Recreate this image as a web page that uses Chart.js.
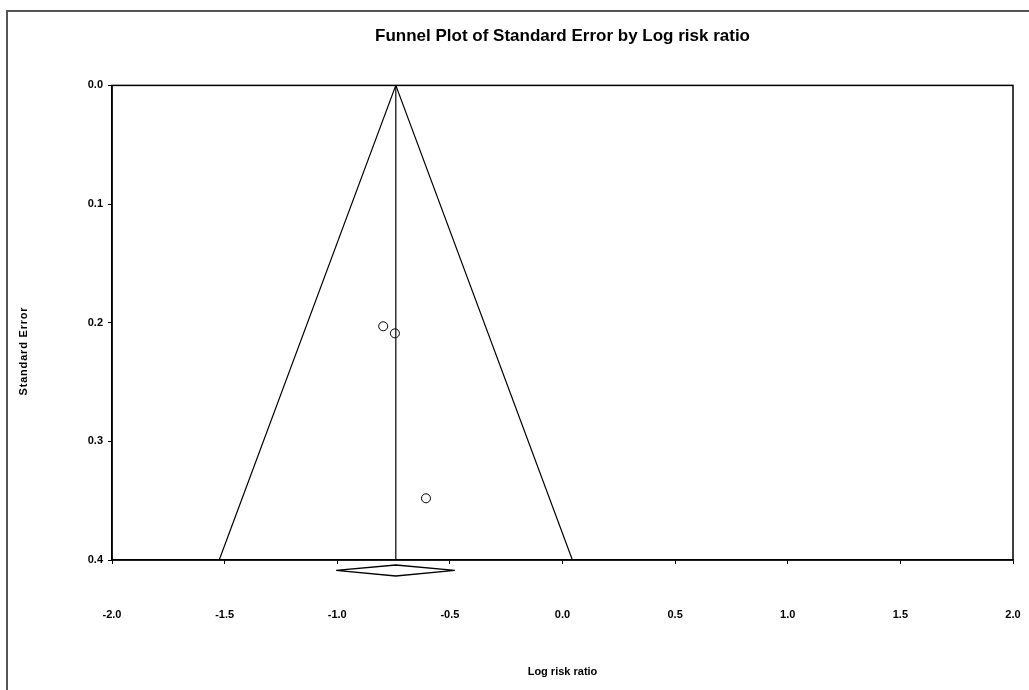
<!DOCTYPE html>
<html>
<head>
<meta charset="utf-8">
<script src="https://cdn.jsdelivr.net/npm/chart.js@4"></script>
<style>
    body { margin: 0; background: #fff; overflow: hidden; }
    #wrap { position: relative; width: 1029px; height: 690px; }
    #frame { position: absolute; left: 6px; top: 10px; width: 1040px; height: 700px;
             border-left: 2px solid #555; border-top: 2px solid #555; pointer-events: none; }
</style>
</head>
<body>
<div id="wrap">
    <canvas id="Funnel" width="1029" height="690"></canvas>
    <div id="frame"></div>
</div>
<script>
// оценка и 95% границы воронки
const pooled = -0.74;
const funnelX = [-1.524, -0.74, 0.044];
const funnelY = [0.4, 0.0, 0.4];
const centerX = [-0.74, -0.74];
const centerY = [0.0, 0.4];

// исследования
const studyLogRR = [-0.796, -0.744, -0.606];
const studySE = [0.203, 0.209, 0.348];

// ромб суммарной оценки (под осью)
const diamondX = [-1.005, -0.74, -0.478, -0.74, -1.005];
const diamondY = [0.4088, 0.4042, 0.4088, 0.4135, 0.4088];

const xMin = -2.0, xMax = 2.0, xStep = 0.5;
const yMin = 0.0, yMax = 0.4, yStep = 0.1;

const plain = "'Liberation Sans', Arial, sans-serif";

function toPoints(xs, ys) {
    return xs.map((x, i) => ({x: x, y: ys[i]}));
}

// рамка области графика и подпись оси Y
const frameBox = {
    id: 'frameBox',
    afterDraw(chart) {
        const {ctx, chartArea} = chart;
        ctx.save();
        ctx.strokeStyle = '#000';
        ctx.lineWidth = 1.5;
        ctx.strokeRect(chartArea.left, chartArea.top, chartArea.right - chartArea.left, chartArea.bottom - chartArea.top);
        ctx.translate(24, 351);
        ctx.rotate(-Math.PI / 2);
        ctx.font = 'bold 11px ' + plain;
        ctx.letterSpacing = '0.8px';
        ctx.fillStyle = '#000';
        ctx.textAlign = 'center';
        ctx.textBaseline = 'middle';
        ctx.fillText('Standard Error', 0, 0);
        ctx.restore();
    }
};

const canvas = document.getElementById('Funnel');
const ctx = canvas.getContext('2d');
const chart = new Chart(ctx, {
    type: 'scatter',
    data: {
        datasets: [
            {
                label: 'funnel',
                data: toPoints(funnelX, funnelY),
                showLine: true,
                borderColor: '#000',
                borderWidth: 1.2,
                pointRadius: 0
            },
            {
                label: 'center',
                data: toPoints(centerX, centerY),
                showLine: true,
                borderColor: '#000',
                borderWidth: 1.2,
                pointRadius: 0
            },
            {
                label: 'studies',
                data: toPoints(studyLogRR, studySE),
                pointStyle: 'circle',
                pointRadius: 4.5,
                borderColor: '#000',
                borderWidth: 1,
                backgroundColor: 'rgba(0,0,0,0)'
            },
            {
                label: 'diamond',
                data: toPoints(diamondX, diamondY),
                showLine: true,
                clip: false,
                borderColor: '#000',
                borderWidth: 1.3,
                pointRadius: 0
            }
        ]
    },
    options: {
        responsive: false,
        animation: false,
        layout: {padding: {left: 0, right: 16, top: 0, bottom: 0}},
        plugins: {
            legend: {display: false},
            tooltip: {enabled: false},
            title: {
                display: true,
                fullSize: false,
                text: 'Funnel Plot of Standard Error by Log risk ratio',
                color: '#000',
                font: {family: plain, size: 17, weight: 'bold'},
                padding: {top: 26, bottom: 39}
            }
        },
        scales: {
            x: {
                type: 'linear',
                min: xMin,
                max: xMax,
                afterFit: (s) => { s.height = 130; s.paddingLeft = 0; s.paddingRight = 0; },
                grid: {display: true, drawOnChartArea: false, drawTicks: true, tickLength: 4, color: '#000'},
                border: {display: true, color: '#000', width: 1.5},
                ticks: {
                    stepSize: xStep,
                    padding: 44,
                    color: '#000',
                    font: {family: plain, size: 11, weight: 'bold'},
                    callback: (v) => Number(v).toFixed(1)
                },
                title: {
                    display: true,
                    text: 'Log risk ratio',
                    color: '#000',
                    font: {family: plain, size: 11, weight: 'bold'},
                    padding: {top: 0, bottom: 11}
                }
            },
            y: {
                type: 'linear',
                min: yMin,
                max: yMax,
                reverse: true,
                afterFit: (s) => { s.width = 112; },
                grid: {display: true, drawOnChartArea: false, drawTicks: true, tickLength: 4, color: '#000'},
                border: {display: true, color: '#000', width: 1.5},
                ticks: {
                    stepSize: yStep,
                    padding: 5,
                    color: '#000',
                    font: {family: plain, size: 11, weight: 'bold'},
                    callback: (v) => Number(v).toFixed(1)
                }
            }
        }
    },
    plugins: [frameBox]
});
</script>
</body>
</html>
